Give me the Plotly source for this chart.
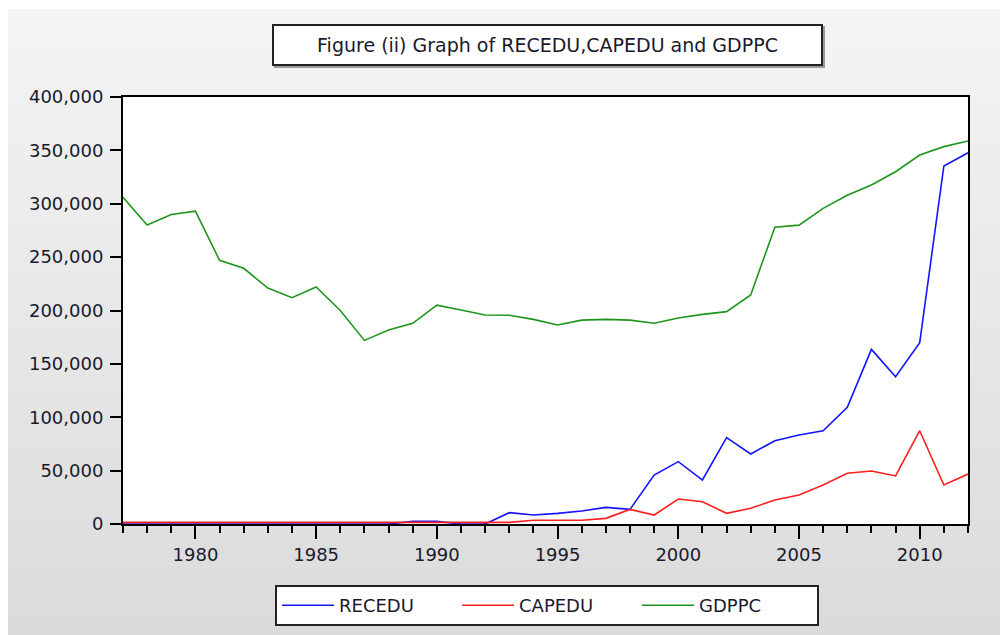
import plotly.graph_objects as go

# ---- data ----
years = list(range(1977, 2013))

recedu = [0, 0, 0, 0, 0, 0, 0, 0, 0, 0, 0, 0, 2500, 2500, 0, 0,
          10600, 8400, 10000, 12200, 15600, 13700, 45900, 58400,
          41200, 80900, 65600, 78000, 83400, 87400, 109300, 163600,
          138000, 169900, 335400, 347800]

capedu = [1500, 1500, 1500, 1500, 1500, 1500, 1500, 1500, 1500, 1500,
          1500, 1500, 1500, 1500, 1500, 1500, 1500, 3500, 3500, 3500,
          5300, 13700, 8400, 23400, 20900, 10000, 14700, 22500, 27200,
          36500, 47500, 49600, 45000, 87400, 36500, 46800]

gdppc = [306000, 280000, 290000, 293000, 247000, 239500, 221000, 212000,
         222000, 200000, 172000, 181700, 188000, 205000, 200500, 195800,
         195600, 191700, 186400, 191000, 191700, 191000, 188000, 193000,
         196400, 198900, 214500, 278000, 280000, 295700, 308000, 317600,
         330000, 345700, 353500, 358800]

series = [("RECEDU", recedu, "#1414ff"),
          ("CAPEDU", capedu, "#ff1e1e"),
          ("GDPPC", gdppc, "#1e961e")]

# ---- page geometry (pixels, figure coords; the page body adds 8px) ----
W, H = 1000, 627
L, R, T, B = 115, 960, 89, 516


def px_x(x):
    return (x - L) / (R - L)


def px_y(y):
    return (B - y) / (B - T)


fig = go.Figure()
for name, vals, col in series:
    fig.add_trace(go.Scatter(x=years, y=vals, name=name, mode="lines",
                             line=dict(color=col, width=1.6)))

# grey gradient page background, drawn as thin bands
shapes = []
n = 60
top, bot = 1, H
for i in range(n):
    y0 = top + (bot - top) * i / n
    y1 = top + (bot - top) * (i + 1) / n + 1
    c = int(round(244 - (244 - 219) * i / (n - 1)))
    shapes.append(dict(type="rect", xref="paper", yref="paper", layer="below",
                       x0=px_x(-1), x1=px_x(W + 2), y0=px_y(y0), y1=px_y(y1),
                       fillcolor=f"rgb({c},{c},{c})", line=dict(width=0)))
# white plotting area on top of the bands
shapes.append(dict(type="rect", xref="paper", yref="paper", layer="below",
                   x0=0, x1=1, y0=0, y1=1, fillcolor="white",
                   line=dict(width=0)))
# shadow under the title box
shapes.append(dict(type="rect", xref="paper", yref="paper", layer="below",
                   x0=px_x(266), x1=px_x(817), y0=px_y(18), y1=px_y(60),
                   fillcolor="#9a9a9a", line=dict(width=0)))

font = "DejaVu Sans"

fig.update_layout(
    width=W, height=H,
    margin=dict(l=L, r=W - R, t=T, b=H - B, autoexpand=False),
    paper_bgcolor="white",
    plot_bgcolor="white",
    shapes=shapes,
    showlegend=True,
    legend=dict(orientation="h", x=px_x(267), y=px_y(577),
                xanchor="left", yanchor="top",
                bgcolor="white", bordercolor="#222", borderwidth=2,
                font=dict(family=font, size=18, color="#1a1a2a"),
                itemwidth=52, entrywidth=113),
    annotations=[dict(text="Figure (ii) Graph of RECEDU,CAPEDU and GDPPC",
                      xref="paper", yref="paper", x=px_x(539), y=px_y(37),
                      xanchor="center", yanchor="middle", showarrow=False,
                      width=545, height=36, bgcolor="white",
                      bordercolor="#222", borderwidth=2, borderpad=1,
                      font=dict(family=font, size=19, color="#1a1a2a"))],
)

fig.update_xaxes(range=[1977, 2012], tick0=1980, dtick=5,
                 ticks="outside", ticklen=13, tickwidth=2, tickcolor="black",
                 minor=dict(dtick=1, tick0=1977, ticks="outside", ticklen=7,
                            tickwidth=2, tickcolor="black"),
                 showgrid=False, zeroline=False,
                 showline=True, linecolor="black", linewidth=2, mirror=True,
                 tickfont=dict(family=font, size=18, color="#1a1a2a"),
                 ticklabelstandoff=0)

fig.update_yaxes(range=[0, 400000], dtick=50000, tickformat=",",
                 ticks="outside", ticklen=11, tickwidth=2, tickcolor="black",
                 showgrid=False, zeroline=False,
                 showline=True, linecolor="black", linewidth=2, mirror=True,
                 tickfont=dict(family=font, size=18, color="#1a1a2a"),
                 ticklabelstandoff=3)

fig.write_html("out.html")
